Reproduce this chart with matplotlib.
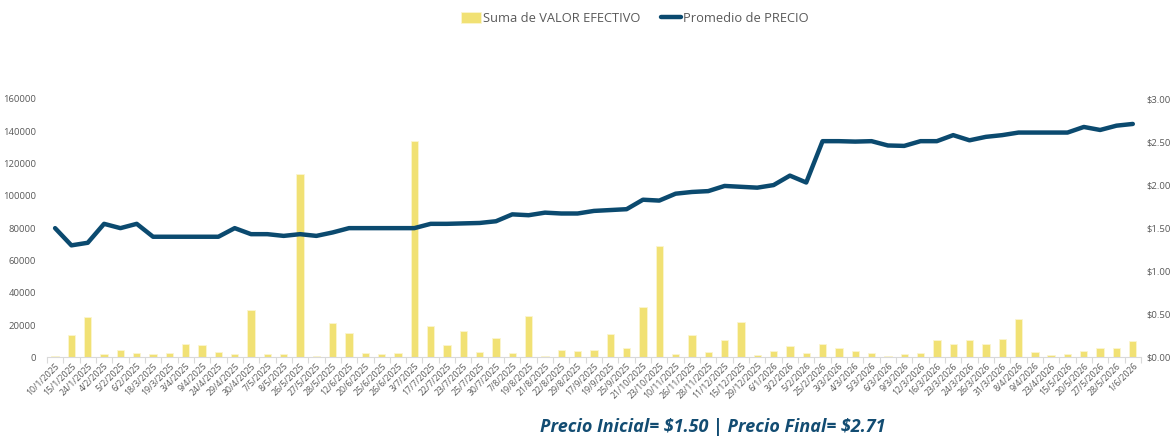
import matplotlib
matplotlib.use('Agg')
import matplotlib.pyplot as plt
import numpy as np
from matplotlib.ticker import FuncFormatter, FixedLocator

plt.rcParams['font.family'] = ['Open Sans', 'DejaVu Sans']
plt.rcParams['text.parse_math'] = False

fechas = [
    '10/1/2025', '15/1/2025', '24/1/2025', '4/2/2025', '5/2/2025', '6/2/2025',
    '18/3/2025', '19/3/2025', '3/4/2025', '9/4/2025', '24/4/2025', '29/4/2025',
    '30/4/2025', '7/5/2025', '8/5/2025', '26/5/2025', '27/5/2025', '28/5/2025',
    '12/6/2025', '20/6/2025', '25/6/2025', '26/6/2025', '3/7/2025', '17/7/2025',
    '22/7/2025', '23/7/2025', '25/7/2025', '30/7/2025', '7/8/2025', '19/8/2025',
    '21/8/2025', '22/8/2025', '29/8/2025', '17/9/2025', '19/9/2025', '25/9/2025',
    '21/10/2025', '23/10/2025', '10/11/2025', '26/11/2025', '28/11/2025', '11/12/2025',
    '15/12/2025', '29/12/2025', '6/1/2026', '3/2/2026', '5/2/2026', '25/2/2026',
    '3/3/2026', '4/3/2026', '5/3/2026', '6/3/2026', '9/3/2026', '12/3/2026',
    '16/3/2026', '23/3/2026', '24/3/2026', '26/3/2026', '31/3/2026', '8/4/2026',
    '9/4/2026', '23/4/2026', '15/5/2026', '20/5/2026', '27/5/2026', '28/5/2026',
    '1/6/2026',
]

valor_efectivo = [
    800, 13800, 25000, 2000, 4500, 2700,
    2000, 2700, 8400, 7600, 3300, 2000,
    29100, 2000, 1800, 113400, 800, 21000,
    15100, 2700, 2300, 2700, 134000, 19400,
    7400, 16100, 3300, 12000, 2700, 25800,
    800, 4300, 3700, 4700, 14400, 5800,
    31200, 69000, 2000, 13800, 3500, 10500,
    21900, 1300, 3700, 7000, 2700, 8000,
    5800, 3700, 2500, 1100, 2300, 2900,
    10500, 8200, 10700, 8200, 11300, 23700,
    3100, 1300, 1800, 3700, 6000, 5800,
    10100,
]

precio = [
    1.50, 1.30, 1.33, 1.55, 1.50, 1.55,
    1.40, 1.40, 1.40, 1.40, 1.40, 1.50,
    1.43, 1.43, 1.41, 1.43, 1.41, 1.45,
    1.50, 1.50, 1.50, 1.50, 1.50, 1.55,
    1.55, 1.555, 1.56, 1.58, 1.66, 1.65,
    1.68, 1.67, 1.67, 1.70, 1.71, 1.72,
    1.83, 1.82, 1.90, 1.92, 1.93, 1.99,
    1.98, 1.97, 2.00, 2.11, 2.03, 2.51,
    2.51, 2.505, 2.51, 2.46, 2.455, 2.51,
    2.51, 2.58, 2.52, 2.56, 2.58, 2.61,
    2.61, 2.61, 2.61, 2.675, 2.64, 2.69,
    2.71,
]

COLOR_BAR = '#F1E174'
COLOR_LINE = '#0B4A6F'
COLOR_TXT = '#595959'

fig = plt.figure(figsize=(11.73, 4.36), dpi=100)
ax = fig.add_axes([0.040, 0.1805, 0.9327, 0.5925])
ax2 = ax.twinx()

x = np.arange(len(fechas))
bars = ax.bar(x, valor_efectivo, width=0.45, color=COLOR_BAR, edgecolor='#FBF5D0',
              linewidth=0.6, zorder=2)
line, = ax2.plot(x, precio, color=COLOR_LINE, linewidth=3.2, solid_capstyle='round',
                 solid_joinstyle='round', zorder=3)

ax.set_xlim(-0.5, len(fechas) - 0.5)
ax.set_ylim(0, 160000)
ax2.set_ylim(0, 3.0)
ax.set_yticks(np.arange(0, 160001, 20000))
ax2.set_yticks(np.arange(0, 3.01, 0.5))
ax2.yaxis.set_major_formatter(FuncFormatter(lambda v, p: f'${v:.2f}'))

ax.set_xticks(x)
ax.set_xticklabels(fechas, rotation=45, ha='right', rotation_mode='anchor',
                   fontsize=6.3, color=COLOR_TXT)
ax.tick_params(axis='x', length=0, pad=3)
ax.xaxis.set_minor_locator(FixedLocator(np.arange(-0.5, len(fechas), 1)))
ax.tick_params(axis='x', which='minor', length=4, color='#D9D9D9', width=0.8)
ax.tick_params(axis='y', length=0, labelsize=6.8, labelcolor=COLOR_TXT, pad=8)
ax2.tick_params(axis='y', length=0, labelsize=6.8, labelcolor=COLOR_TXT, pad=4)

for a in (ax, ax2):
    for s in ('top', 'left', 'right'):
        a.spines[s].set_visible(False)
ax.spines['bottom'].set_color('#D9D9D9')
ax2.spines['bottom'].set_visible(False)

fig.legend([bars, line], ['Suma de VALOR EFECTIVO', 'Promedio de PRECIO'],
           loc='center', bbox_to_anchor=(0.541, 0.958), ncol=2, frameon=False,
           fontsize=9.3, labelcolor=COLOR_TXT, handlelength=1.6, handletextpad=0.1,
           columnspacing=1.6, handleheight=0.9)

fig.text(0.608, 0.02, 'Precio Inicial= $1.50 | Precio Final= $2.71', ha='center',
         va='center', fontsize=13, fontweight='bold', fontstyle='italic', color='#124C72')

fig.savefig('out.png', dpi=100)
